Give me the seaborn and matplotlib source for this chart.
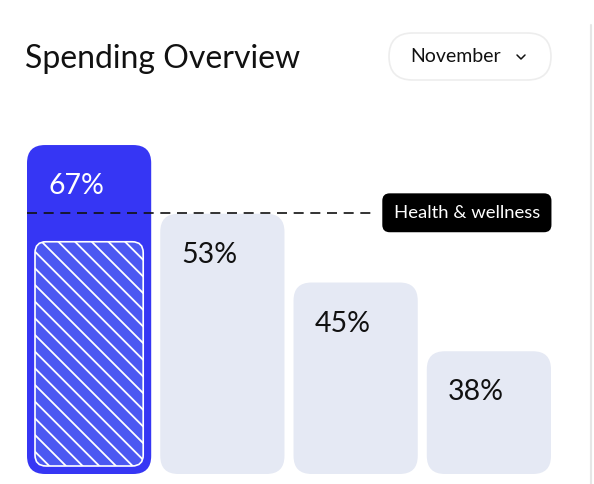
import matplotlib

matplotlib.use("Agg")
import matplotlib.pyplot as plt  # noqa: E402
import seaborn as sns  # noqa: E402
from matplotlib.patches import FancyBboxPatch  # noqa: E402

# --------------------------------------------------------------------------- #
# Data
# --------------------------------------------------------------------------- #
categories = ["Health & wellness", "Groceries", "Transport", "Leisure"]
shares = [67, 53, 45, 38]            # labels printed on the bars (%)
bar_heights = [67, 53, 39, 25]       # drawn bar heights (design scale)
highlight_fill = 47.3                # hatched inner block of the first bar
threshold = 53.2                     # dashed reference line
threshold_label = "Health & wellness"
title = "Spending Overview"
month = "November"

BLUE = "#3636F4"
BLUE_INNER = "#4B58F2"
LIGHT = "#E5E9F4"

sns.set_theme(style="white")
plt.rcParams["font.family"] = ["Lato", "DejaVu Sans"]
plt.rcParams["hatch.linewidth"] = 1.3

W, H = 594, 484
fig = plt.figure(figsize=(W / 100, H / 100), dpi=100)
fig.patch.set_facecolor("white")

# decoration layer in pixel units (header, card edge)
deco = fig.add_axes([0, 0, 1, 1])
deco.set_xlim(0, W)
deco.set_ylim(H, 0)
deco.axis("off")

# --------------------------------------------------------------------------- #
# Bars
# --------------------------------------------------------------------------- #
ax = fig.add_axes([27 / W, 10 / H, 524 / W, 70 * 4.91 / H])
ax.patch.set_alpha(0)
sns.barplot(x=categories, y=bar_heights, width=0.932, ax=ax,
            palette=[BLUE, LIGHT, LIGHT, LIGHT], hue=categories, legend=False,
            saturation=1)
ax.set_xlim(-0.466, 3.466)
ax.set_ylim(0, 70)
ax.axis("off")

# unit -> pixel scale, used to keep corners circular
p0 = ax.transData.transform((0, 0))
p1 = ax.transData.transform((1, 1))
sx, sy = p1[0] - p0[0], p1[1] - p0[1]
aspect = sx / sy

for bar, share in zip(list(ax.patches), shares):
    x, y = bar.get_x(), bar.get_y()
    w, h = bar.get_width(), bar.get_height()
    color = bar.get_facecolor()
    bar.remove()
    ax.add_patch(FancyBboxPatch(
        (x, y), w, h, boxstyle=f"round,pad=0,rounding_size={18 / sx}",
        mutation_aspect=aspect, fc=color, ec="none", zorder=2))
    is_first = share == shares[0]
    ax.annotate(f"{share}%", xy=(x, y + h), xytext=(21, -41),
                textcoords="offset pixels", ha="left", va="center",
                fontsize=20.5, color="white" if is_first else "#111111",
                zorder=5)
    if is_first:
        ix, iy = x + 8 / sx, y + 8 / sy
        ax.add_patch(FancyBboxPatch(
            (ix, iy), w - 16 / sx, highlight_fill - iy,
            boxstyle=f"round,pad=0,rounding_size={11 / sx}",
            mutation_aspect=aspect, fc=BLUE_INNER, ec="white", lw=1.2,
            hatch="\\\\", zorder=3))

# dashed threshold + tag
ax.axhline(threshold, xmin=0, xmax=(375 - 27) / 524, color="#111111",
           lw=1.2, ls=(0, (6, 4)), zorder=4)
ax.annotate(threshold_label, xy=(3.466, threshold), xytext=(-11, 0),
            textcoords="offset pixels", ha="right", va="center",
            fontsize=13.3, color="white", zorder=6,
            bbox=dict(boxstyle="round,pad=0.62,rounding_size=0.4",
                      fc="black", ec="none"))

# --------------------------------------------------------------------------- #
# Header
# --------------------------------------------------------------------------- #
deco.text(25, 59, title, ha="left", va="center", fontsize=23, color="#111111")
deco.add_patch(FancyBboxPatch((389, 33), 162, 47,
                              boxstyle="round,pad=0,rounding_size=23.5",
                              fc="white", ec="#EDEDED", lw=1.2))
deco.text(410, 57, month, ha="left", va="center", fontsize=14, color="#111111")
deco.plot([517, 521, 525], [55, 59, 55], color="#111111", lw=1.1)
deco.plot([591, 591], [25, H], color="#E6E6E6", lw=1.5)

fig.savefig("out.png", dpi=100)
